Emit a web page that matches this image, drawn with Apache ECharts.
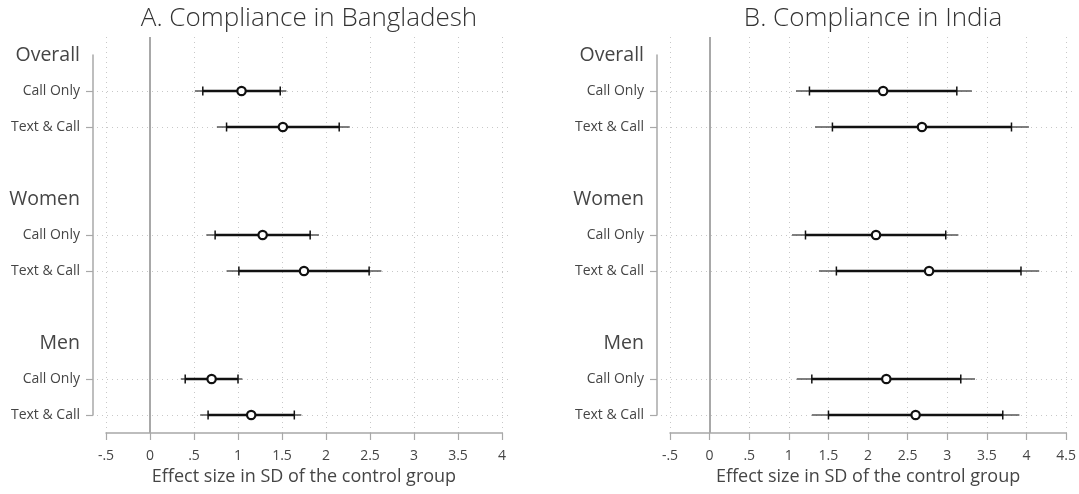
<!DOCTYPE html>
<html><head><meta charset="utf-8">
<script src="https://cdn.jsdelivr.net/npm/echarts@6/dist/echarts.min.js"></script>
<style>html,body{margin:0;padding:0;background:#fff}#c{width:1079px;height:494px}</style>
</head><body><div id="c"></div>
<script>
// ---- data ----
const groups = ['Overall', 'Women', 'Men'];
const arms = ['Call Only', 'Text & Call'];
const titles = ['A. Compliance in Bangladesh', 'B. Compliance in India'];
const xLabel = 'Effect size in SD of the control group';
const xMins = [-0.5, -0.5];
const xMaxs = [4, 4.5];
const xStep = 0.5;

// order: Overall-Call, Overall-Text, Women-Call, Women-Text, Men-Call, Men-Text
const bdEst  = [1.04, 1.51, 1.28, 1.75, 0.70, 1.15];
const bdLo90 = [0.60, 0.87, 0.74, 1.01, 0.40, 0.66];
const bdHi90 = [1.48, 2.15, 1.82, 2.49, 1.00, 1.64];
const bdLo95 = [0.51, 0.76, 0.64, 0.87, 0.35, 0.57];
const bdHi95 = [1.55, 2.27, 1.92, 2.63, 1.05, 1.72];

const inEst  = [2.19, 2.68, 2.10, 2.77, 2.23, 2.60];
const inLo90 = [1.26, 1.55, 1.21, 1.60, 1.29, 1.50];
const inHi90 = [3.12, 3.81, 2.98, 3.93, 3.17, 3.70];
const inLo95 = [1.09, 1.33, 1.04, 1.38, 1.10, 1.29];
const inHi95 = [3.31, 4.03, 3.14, 4.16, 3.35, 3.91];

// ---- build ----
const FONT = "'Open Sans', sans-serif";
const TXT = '#454545';
const AXC = '#a8a8a8';
const slotsPerGroup = arms.length + 2;
const nSlots = groups.length * slotsPerGroup - 1;
const headerSlots = groups.map((g, i) => i * slotsPerGroup);
const armSlots = [];
groups.forEach((g, gi) => arms.forEach((a, ai) => armSlots.push(gi * slotsPerGroup + 1 + ai)));
const slotLabel = {};
groups.forEach((g, i) => slotLabel[headerSlots[i]] = '{h|' + g + '}');
armSlots.forEach((s, i) => slotLabel[s] = '{a|' + arms[i % arms.length] + '}');

function rows(est, lo90, hi90, lo95, hi95) {
  return est.map((e, i) => [armSlots[i], lo95[i], lo90[i], e, hi90[i], hi95[i]]);
}
const panelData = [
  rows(bdEst, bdLo90, bdHi90, bdLo95, bdHi95),
  rows(inEst, inLo90, inHi90, inLo95, inHi95)
];

const layout = [
  { plot: { left: 106, right: 577, top: 37, bottom: 61 }, ax: { left: 97, right: 569, top: 55, bottom: 79 }, tx: 304 },
  { plot: { left: 670, right: 12, top: 37, bottom: 61 }, ax: { left: 661, right: 4, top: 55, bottom: 79 }, tx: 868 }
];

function fmt(v) {
  if (v === 0) return '0';
  return String(v).replace(/^(-?)0\./, '$1.');
}

function renderBar(params, api) {
  const y = api.value(0);
  const a95 = api.coord([api.value(1), y]);
  const a90 = api.coord([api.value(2), y]);
  const pe = api.coord([api.value(3), y]);
  const b90 = api.coord([api.value(4), y]);
  const b95 = api.coord([api.value(5), y]);
  const cy = pe[1];
  return {
    type: 'group',
    children: [
      { type: 'line', shape: { x1: a95[0], y1: cy, x2: b95[0], y2: cy }, style: { stroke: '#555', lineWidth: 1.5 } },
      { type: 'line', shape: { x1: a90[0], y1: cy, x2: b90[0], y2: cy }, style: { stroke: '#111', lineWidth: 2.3 } },
      { type: 'line', shape: { x1: a90[0], y1: cy - 4.5, x2: a90[0], y2: cy + 4.5 }, style: { stroke: '#111', lineWidth: 1.5 } },
      { type: 'line', shape: { x1: b90[0], y1: cy - 4.5, x2: b90[0], y2: cy + 4.5 }, style: { stroke: '#111', lineWidth: 1.5 } },
      { type: 'circle', shape: { cx: pe[0], cy: cy, r: 4.2 }, style: { fill: '#fff', stroke: '#111', lineWidth: 2.2 } }
    ]
  };
}

const grid = [], xAxis = [], yAxis = [], series = [], title = [];
layout.forEach((L, p) => {
  const gPlot = grid.length; grid.push(L.plot);
  const gAx = grid.length; grid.push(L.ax);
  title.push({
    text: titles[p], left: L.tx, top: 1, textAlign: 'center',
    textStyle: { fontFamily: FONT, fontSize: 26, fontWeight: 300, color: '#333' }
  });
  // plot axes
  xAxis.push({
    type: 'value', gridIndex: gPlot, min: xMins[p], max: xMaxs[p], interval: xStep, position: 'bottom',
    axisLine: { show: true, onZero: false, lineStyle: { color: AXC, width: 1.5 } },
    axisTick: { show: true, length: 7, lineStyle: { color: AXC, width: 1.2 } },
    axisLabel: { fontFamily: FONT, fontSize: 14, color: TXT, margin: 16, formatter: fmt },
    splitLine: { show: true, lineStyle: { color: '#c8c8c8', type: [1, 4], width: 1 } },
    name: xLabel, nameLocation: 'middle', nameGap: 35,
    nameTextStyle: { fontFamily: FONT, fontSize: 18, color: TXT }
  });
  yAxis.push({ type: 'value', gridIndex: gPlot, min: -0.5, max: nSlots - 0.5, inverse: true, show: false });
  // label axis
  xAxis.push({ type: 'value', gridIndex: gAx, min: 0, max: 1, show: false });
  yAxis.push({
    type: 'value', gridIndex: gAx, min: 0, max: nSlots - 1, inverse: true, position: 'left', offset: 4,
    axisLine: { show: true, onZero: false, lineStyle: { color: AXC, width: 1.5 } },
    axisTick: { show: true, length: 7, customValues: armSlots, lineStyle: { color: AXC, width: 1.2 } },
    axisLabel: {
      margin: 13, customValues: headerSlots.concat(armSlots),
      formatter: v => slotLabel[v] || '',
      rich: {
        h: { fontFamily: FONT, fontSize: 19.5, color: TXT },
        a: { fontFamily: FONT, fontSize: 14, color: TXT }
      }
    },
    splitLine: { show: true, lineStyle: { color: '#c8c8c8', type: [1, 4], width: 1 } }
  });
  series.push({
    type: 'custom', xAxisIndex: gPlot, yAxisIndex: gPlot, renderItem: renderBar,
    encode: { x: [1, 2, 3, 4, 5], y: 0 }, data: panelData[p], z: 5,
    markLine: {
      silent: true, symbol: 'none', label: { show: false },
      lineStyle: { color: AXC, width: 2, type: 'solid' },
      data: [{ xAxis: 0 }]
    }
  });
});

const chart = echarts.init(document.getElementById('c'), null, { renderer: 'canvas' });
chart.setOption({ animation: false, backgroundColor: '#fff', title, grid, xAxis, yAxis, series });
</script>
</body></html>
